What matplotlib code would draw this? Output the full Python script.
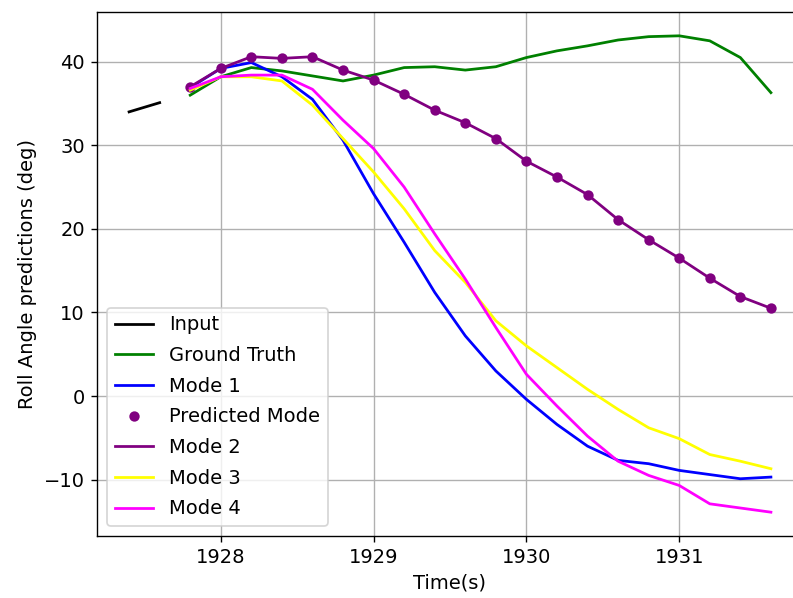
import matplotlib
matplotlib.use("Agg")
import matplotlib.pyplot as plt
import numpy as np

# time axis (s)
t_input = [1927.4, 1927.6]
t_pred = [1927.8 + 0.2 * k for k in range(20)]

input_roll = [34.0, 35.1]

ground_truth = [36.0, 38.2, 39.3, 38.9, 38.3, 37.7, 38.4, 39.3, 39.4, 39.0,
                39.4, 40.5, 41.3, 41.9, 42.6, 43.0, 43.1, 42.5, 40.5, 36.3]
mode1 = [36.9, 39.2, 39.9, 38.2, 35.5, 30.6, 24.2, 18.4, 12.4, 7.2,
         3.0, -0.4, -3.4, -6.0, -7.7, -8.1, -8.9, -9.4, -9.9, -9.7]
mode2 = [37.0, 39.2, 40.6, 40.4, 40.6, 39.0, 37.8, 36.1, 34.2, 32.7,
         30.8, 28.1, 26.2, 24.1, 21.1, 18.7, 16.5, 14.1, 11.9, 10.5]
mode3 = [36.6, 38.2, 38.2, 37.7, 34.8, 30.8, 26.8, 22.4, 17.4, 13.6,
         9.0, 6.0, 3.4, 0.8, -1.6, -3.8, -5.1, -7.0, -7.8, -8.7]
mode4 = [36.8, 38.2, 38.4, 38.4, 36.7, 33.0, 29.6, 25.0, 19.4, 14.0,
         8.2, 2.6, -1.2, -4.8, -7.8, -9.5, -10.7, -12.9, -13.4, -13.9]

plt.rcParams["font.size"] = 11.3

dpi = 124
fig = plt.figure(figsize=(793 / dpi, 598 / dpi), dpi=dpi)
ax = fig.add_axes([97 / 793, 62 / 598, 706 / 793, 524 / 598])

lw = 1.6
ax.plot(t_input, input_roll, color="black", linewidth=lw, label="Input")
ax.plot(t_pred, ground_truth, color="green", linewidth=lw, label="Ground Truth")
ax.plot(t_pred, mode1, color="blue", linewidth=lw, label="Mode 1")
ax.plot(t_pred, mode2, "o", color="purple", markersize=5, label="Predicted Mode")
ax.plot(t_pred, mode2, color="purple", linewidth=lw, label="Mode 2")
ax.plot(t_pred, mode3, color="yellow", linewidth=lw, label="Mode 3")
ax.plot(t_pred, mode4, color="magenta", linewidth=lw, label="Mode 4")

ax.set_xlabel("Time(s)")
ax.set_ylabel("Roll Angle predictions (deg)")
ax.grid(True)
ax.legend(loc="lower left", labelspacing=0.6)

fig.savefig("out.png", dpi=dpi)
